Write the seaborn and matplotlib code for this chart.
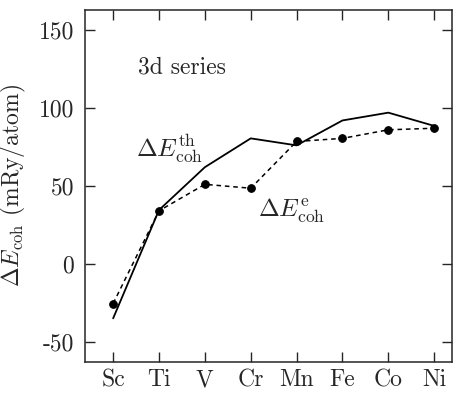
import matplotlib
matplotlib.use("Agg")
import matplotlib.pyplot as plt
import seaborn as sns
import pandas as pd

elements = ["Sc", "Ti", "V", "Cr", "Mn", "Fe", "Co", "Ni"]
e_theory = [-35, 34.5, 62, 80.5, 76, 92, 97, 88.5]
e_exp = [-25.5, 34, 51, 48.5, 78.5, 80.5, 86, 87]
yticks = [-50, 0, 50, 100, 150]
ytick_labels = ["-50", "0", "50", "100", "150"]

sns.set_style("ticks")
plt.rcParams["font.family"] = ["cmr10", "DejaVu Serif"]
plt.rcParams["mathtext.fontset"] = "cm"
plt.rcParams["axes.unicode_minus"] = False

idx = list(range(len(elements)))
df_th = pd.DataFrame({"x": idx, "y": e_theory})
df_ex = pd.DataFrame({"x": idx, "y": e_exp})

fig = plt.figure(figsize=(4.53, 3.93), dpi=100)
ax = fig.add_axes([0.188, 0.079, 0.81, 0.896])

sns.lineplot(data=df_th, x="x", y="y", ax=ax, color="black", lw=1.3)
sns.lineplot(data=df_ex, x="x", y="y", ax=ax, color="black", lw=1.1,
             linestyle=(0, (3, 2.5)), marker="o", markersize=5.5,
             markeredgecolor="black")

ax.set_xlim(-0.61, 7.39)
ax.set_ylim(-63, 163)
ax.set_xticks(idx)
ax.set_xticklabels(elements, fontsize=17)
ax.set_yticks(yticks)
ax.set_yticklabels(ytick_labels, fontsize=17)
ax.tick_params(direction="in", length=7, width=1, top=True, right=True)
ax.tick_params(axis="x", pad=5)
ax.tick_params(axis="y", pad=8)
for s in ax.spines.values():
    s.set_linewidth(1.1)
ax.set_xlabel("")
ax.set_ylabel(r"$\Delta E_{\rm coh}$ (mRy/atom)", fontsize=17, labelpad=8)

ax.text(0.54, 126, "3d series", fontsize=17, va="center", ha="left")
ax.text(0.5, 74, r"$\Delta E^{\rm th}_{\rm coh}$", fontsize=18, va="center", ha="left")
ax.text(3.15, 34, r"$\Delta E^{\rm e}_{\rm coh}$", fontsize=18, va="center", ha="left")

fig.savefig("out.png", dpi=100)
